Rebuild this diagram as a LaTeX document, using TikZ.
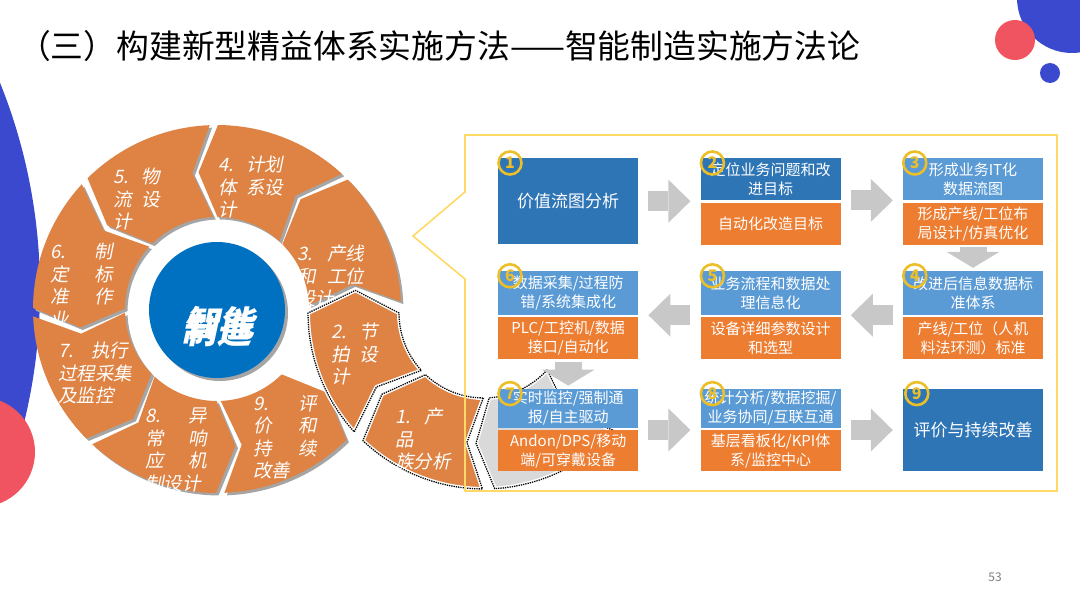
\documentclass[tikz,border=0pt]{standalone}
\usepackage{fontspec}
\setmainfont{Noto Sans CJK SC}
\newfontfamily\segfont{Noto Sans CJK SC}[FakeSlant=0.2]
\newfontfamily\hubfont{Noto Sans CJK SC}[FakeSlant=0.22]
\usetikzlibrary{arrows.meta,positioning}
\definecolor{boxdark}{RGB}{46,117,182}
\definecolor{boxlight}{RGB}{91,155,213}
\definecolor{boxorange}{RGB}{237,125,49}
\definecolor{arrgray}{RGB}{200,200,200}
\definecolor{segorange}{RGB}{222,131,68}
\definecolor{segshade}{RGB}{165,165,165}
\definecolor{hubblue}{RGB}{0,112,192}
\definecolor{wedgegray}{RGB}{217,217,217}
\definecolor{numgold}{RGB}{236,190,40}
\definecolor{frameyellow}{RGB}{255,217,102}
\definecolor{decoblue}{RGB}{59,73,206}
\definecolor{decored}{RGB}{240,84,96}

\begin{document}
\begin{tikzpicture}[x=1pt,y=-1pt,
  btop/.style={fill=boxlight,text=white,minimum width=140pt,minimum height=42pt,inner sep=1pt,align=center,font=\fontsize{15}{19}\selectfont},
  bbot/.style={btop,fill=boxorange},
  bsolo/.style={btop,fill=boxdark,minimum height=86pt,font=\fontsize{17}{21}\selectfont},
  numc/.style={circle,draw=numgold,line width=2.6pt,minimum size=23pt,inner sep=0pt,text=numgold,font=\fontsize{16}{16}\selectfont\bfseries},
  barrow/.style={draw=arrgray,line width=20pt,shorten <=10pt,shorten >=10pt,-{Triangle[length=22pt,width=43pt,line width=0pt]}},
  darrow/.style={draw=arrgray,line width=27pt,shorten <=2pt,shorten >=3pt,-{Triangle[length=16pt,width=53pt,line width=0pt]}},
  seg/.style={fill=segorange,preaction={fill=segshade,transform canvas={shift={(2.5pt,-2.5pt)}}}},
  zseg/.style={fill=segorange,draw=white,line width=4pt,line join=round,postaction={draw=black,line width=1.3pt,densely dotted}},
  segtext/.style={anchor=north west,inner sep=0pt,align=left,text=white,font=\segfont\fontsize{18.5}{22.5}\selectfont},
  hub/.style={circle,fill=hubblue,minimum size=136pt,inner sep=0pt,preaction={fill=segshade,transform canvas={shift={(3pt,-3pt)}}}},
  hubtext/.style={inner sep=0pt,text=white,font=\hubfont\bfseries\fontsize{35}{35}\selectfont},
  yframe/.style={draw=frameyellow,line width=1.6pt,line join=miter},
  titletext/.style={inner sep=0pt,anchor=west,font=\fontsize{32.8}{35}\selectfont},
  pagenum/.style={inner sep=0pt,text=black!50,font=\fontsize{12}{12}\selectfont}
]
\useasboundingbox (0,0) rectangle (1080,608);
\fill[white] (0,0) rectangle (1080,608);
\fill[decoblue] (-515,290) circle[radius=555pt];
\fill[decored] (-20,452) circle[radius=55pt];
\fill[decoblue] (1072,-2) circle[radius=55pt];
\fill[decored] (1015,40) circle[radius=20pt];
\fill[decoblue] (1050,73) circle[radius=10pt];
\node[titletext] (title) at (18,46) {（三）构建新型精益体系实施方法——智能制造实施方法论};

\begin{scope}[shift={(217,309)}]
\foreach \segb/\segp/\segw/\segt [count=\k from 3] in {
  -1/{80,-64}/67/{3.\hfill 产线\\和\hfill 工位\\设计},
  -46/{1,-153}/65/{4.\hfill 计划\\体\hfill 系设\\计},
  -91/{-104,-141}/47/{5.\hfill 物\\流\hfill 设\\计},
  -136/{-167,-66}/63/{6.\hfill 制\\定\hfill 标\\准\hfill 作\\业},
  -181/{-159,33}/70/{7.\hfill 执行\\过程采集\\及监控},
  -226/{-72,99}/62/{8.\hfill 异\\常\hfill 响\\应\hfill 机\\制设计},
  -271/{36,86}/64/{9.\hfill 评\\价\hfill 和\\持\hfill 续\\改善}}{
  \pgfmathsetmacro\segS{\segb-1.3}
  \pgfmathsetmacro\segE{\segb-43.7}
  \fill[seg] (\segS:92) -- ({\segS-8}:138) -- (\segS:184)
    -- plot[domain=\segS:\segE,samples=24] (\x:184)
    -- ({\segE-8}:138) -- (\segE:92)
    -- plot[domain=\segE:\segS,samples=16] (\x:92) -- cycle;
  \node[segtext,text width=\segw pt] (l\k) at (\segp) {\segt};
}
\end{scope}
\node[hub] (hub) at (217,310) {};
\node[hubtext] (hubt1) at (219,323) {智能};
\node[hubtext] (hubt2) at (216,330) {制造};

\begin{scope}[shift={(484,313)}]
\draw[zseg,fill=wedgegray] (42:85) -- (50:130.5) -- (42:176) -- plot[domain=42:86.5,samples=16] (\x:176)
  -- (93.5:130.5) -- (86.5:85) -- plot[domain=86.5:42,samples=12] (\x:85) -- cycle;
\draw[zseg] (137.5:85) -- (145.5:130.5) -- (137.5:176) -- plot[domain=137.5:180,samples=16] (\x:176)
  -- (190:130.5) -- (180:85) -- plot[domain=180:137.5,samples=12] (\x:85) -- cycle;
\draw[zseg] (90.5:85) -- (97.5:130.5) -- (90.5:176) -- plot[domain=90.5:133.5,samples=16] (\x:176)
  -- (141.5:130.5) -- (133.5:85) -- plot[domain=133.5:90.5,samples=12] (\x:85) -- cycle;
\end{scope}
\node[segtext,text width=47pt] (l2) at (331,323) {2.\hfill 节\\拍\hfill 设\\计};
\node[segtext,text width=48pt] (l1) at (395,408) {1.\hfill 产\\品\\族分析};

\draw[yframe] (465,135) -- (1057,135) -- (1057,491) -- (465,491) -- (465,279) -- (413,236) -- (465,192) -- cycle;

\node[bsolo,anchor=north west] (b1) at (498,158) {价值流图分析};
\node[btop,fill=boxdark,right=62pt of b1.north east,anchor=north west] (b2t) {定位业务问题和改\\进目标};
\node[bbot,below=2pt of b2t] (b2b) {自动化改造目标};
\node[btop,right=62pt of b2t] (b3t) {形成业务IT化\\数据流图};
\node[bbot,below=2pt of b3t] (b3b) {形成产线/工位布\\局设计/仿真优化};
\node[btop,minimum height=44pt,below=26pt of b3b] (b4t) {改进后信息数据标\\准体系};
\node[bbot,below=2pt of b4t] (b4b) {产线/工位（人机\\料法环测）标准};
\node[btop,minimum height=44pt,left=62pt of b4t] (b5t) {业务流程和数据处\\理信息化};
\node[bbot,below=2pt of b5t] (b5b) {设备详细参数设计\\和选型};
\node[btop,minimum height=44pt,left=62pt of b5t] (b6t) {数据采集/过程防\\错/系统集成化};
\node[bbot,below=2pt of b6t] (b6b) {PLC/工控机/数据\\接口/自动化};
\node[btop,minimum height=39pt,below=29pt of b6b] (b7t) {实时监控/强制通\\报/自主驱动};
\node[bbot,minimum height=41pt,below=2pt of b7t] (b7b) {Andon/DPS/移动\\端/可穿戴设备};
\node[btop,minimum height=39pt,right=62pt of b7t] (b8t) {统计分析/数据挖掘/\\业务协同/互联互通};
\node[bbot,minimum height=41pt,below=2pt of b8t] (b8b) {基层看板化/KPI体\\系/监控中心};
\node[bsolo,minimum height=82pt,right=62pt of b8t.north east,anchor=north west] (b9) {评价与持续改善};

\draw[barrow] (b1.east) -- (b1.east -| b2t.west);
\draw[barrow] (b2t.south east) -- (b2t.south east -| b3t.west);
\draw[darrow] (b3b.south) -- (b4t.north);
\draw[barrow] (b4t.south west) -- (b4t.south west -| b5t.east);
\draw[barrow] (b5t.south west) -- (b5t.south west -| b6t.east);
\draw[darrow] (b6b.south) -- (b7t.north);
\draw[barrow] (b7b.north east) -- (b7b.north east -| b8b.west);
\draw[barrow] (b8b.north east) -- (b8b.north east -| b9.west);

\node[numc] (n1) at ([shift={(12,5)}]b1.north west) {1};
\node[numc] (n2) at ([shift={(12,5)}]b2t.north west) {2};
\node[numc] (n3) at ([shift={(12,5)}]b3t.north west) {3};
\node[numc] (n4) at ([shift={(12,5)}]b4t.north west) {4};
\node[numc] (n5) at ([shift={(12,5)}]b5t.north west) {5};
\node[numc] (n6) at ([shift={(12,5)}]b6t.north west) {6};
\node[numc] (n7) at ([shift={(12,5)}]b7t.north west) {7};
\node[numc] (n8) at ([shift={(12,5)}]b8t.north west) {8};
\node[numc] (n9) at ([shift={(14,5)}]b9.north west) {9};

\node[pagenum] (pg) at (995,577) {53};
\end{tikzpicture}
\end{document}
